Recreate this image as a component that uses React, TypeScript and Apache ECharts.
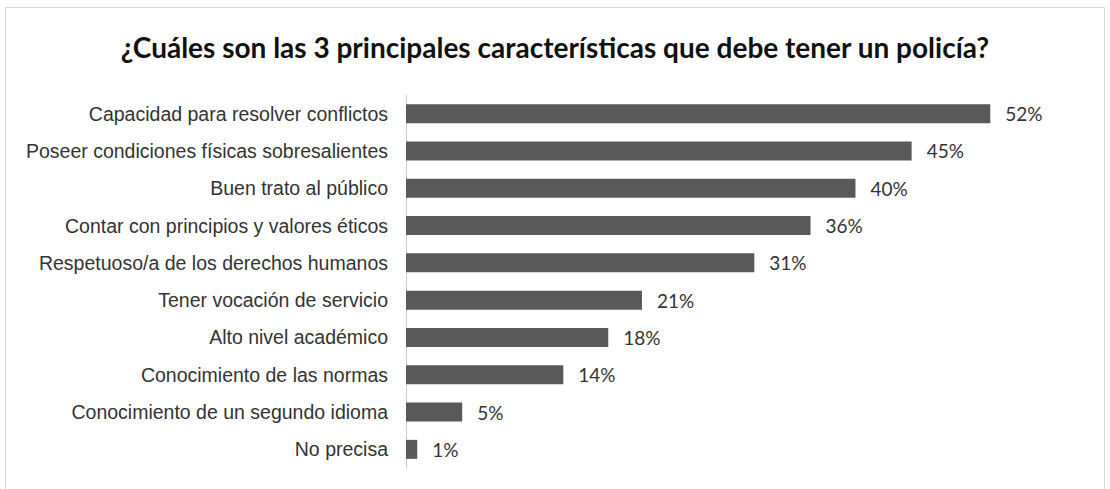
import React, { useEffect, useRef } from "react";
import * as echarts from "echarts";

const categories = [
  "Capacidad para resolver conflictos",
  "Poseer condiciones físicas sobresalientes",
  "Buen trato al público",
  "Contar con principios y valores éticos",
  "Respetuoso/a de los derechos humanos",
  "Tener vocación de servicio",
  "Alto nivel académico",
  "Conocimiento de las normas",
  "Conocimiento de un segundo idioma",
  "No precisa",
];
const values = [52, 45, 40, 36, 31, 21, 18, 14, 5, 1];
const titleText = "¿Cuáles son las 3 principales características que debe tener un policía?";

export default function App() {
  const ref = useRef<HTMLDivElement>(null);
  useEffect(() => {
    document.body.style.margin = "0";
    const chart = echarts.init(ref.current!, null, { renderer: "svg" });
    chart.setOption({
      animation: false,
      backgroundColor: "#ffffff",
      title: {
        text: titleText,
        left: "center",
        top: 28,
        textStyle: {
          fontFamily: "Lato",
          fontWeight: "bold",
          fontSize: 28,
          color: "#111111",
        },
      },
      graphic: [
        {
          type: "rect",
          shape: { x: 5.5, y: 7.5, width: 1099, height: 500 },
          style: { fill: "none", stroke: "#d9d9d9", lineWidth: 1 },
          silent: true,
        },
      ],
      grid: { left: 406, right: 86, top: 95, bottom: 21, containLabel: false },
      xAxis: {
        type: "value",
        min: 0,
        max: 55,
        show: false,
      },
      yAxis: {
        type: "category",
        inverse: true,
        data: categories,
        axisLine: { show: true, lineStyle: { color: "#cccccc", width: 1 } },
        axisTick: { show: false },
        axisLabel: {
          margin: 18,
          fontFamily: "Liberation Sans",
          fontSize: 19.5,
          color: "#333333",
        },
      },
      series: [
        {
          type: "bar",
          data: values,
          barWidth: 19,
          itemStyle: { color: "#595959" },
          label: {
            show: true,
            position: "right",
            distance: 15,
            formatter: "{c}%",
            fontFamily: "Lato",
            fontSize: 19,
            color: "#333333",
          },
        },
      ],
    });
    return () => chart.dispose();
  }, []);
  return <div ref={ref} style={{ width: 1110, height: 489 }} />;
}
